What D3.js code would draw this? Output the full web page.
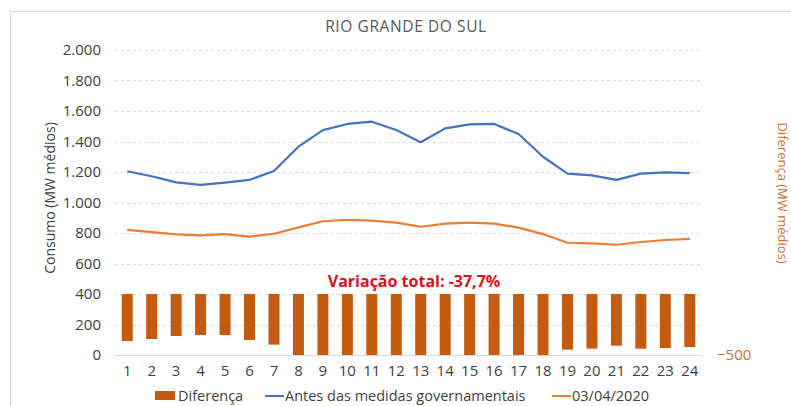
<!DOCTYPE html>
<html>
<head>
<meta charset="utf-8">
<script src="https://cdn.jsdelivr.net/npm/d3@7"></script>
<style>
    body { margin: 0; background: #fff; }
    text { font-family: "Open Sans", Lato, sans-serif; }
</style>
</head>
<body>
<svg id="chart" width="791" height="406"></svg>
<script>
// hours of the day
var hours = d3.range(1, 25);
// consumption before the government measures (MW médios)
var antes = [1205, 1172, 1132, 1115, 1130, 1148, 1207, 1366, 1475, 1515, 1530, 1475,
             1395, 1486, 1512, 1515, 1449, 1300, 1189, 1178, 1148, 1189, 1198, 1193];
// consumption on 03/04/2020
var dia = [820, 806, 791, 785, 793, 776, 795, 837, 877, 887, 881, 868,
           841, 861, 868, 861, 835, 793, 736, 732, 723, 741, 754, 761];
// difference (right axis)
var diferenca = [-385, -369, -344, -336, -336, -377, -415, -529, -598, -628, -649, -607,
                 -554, -625, -644, -654, -614, -507, -456, -448, -424, -448, -443, -435];
var leftTicks = [0, 200, 400, 600, 800, 1000, 1200, 1400, 1600, 1800, 2000];
var rightTicks = [-500];

var fmt = function(v) { return d3.format(",")(v).replace(/,/g, "."); };

var svg = d3.select("#chart");
var margin = {top: 50, left: 115, right: 89, bottom: 51};
var width = 791 - margin.left - margin.right,
    height = 406 - margin.top - margin.bottom;

// chart frame
svg.append("rect")
    .attr("x", 10.5).attr("y", 11.5)
    .attr("width", 800).attr("height", 420)
    .attr("fill", "none").attr("stroke", "#d9d9d9");

var g = svg.append("g").attr("transform", "translate(" + margin.left + "," + margin.top + ")");

var x = d3.scaleBand().domain(hours).range([0, width]);
var y = d3.scaleLinear().domain([0, 2000]).range([height, 0]);
var y2 = d3.scaleLinear().domain([-500, 2000]).range([height, 0]).clamp(true);

// gridlines
g.append("g")
    .selectAll("line")
    .data(leftTicks)
    .enter().append("line")
    .attr("x1", 0).attr("x2", width)
    .attr("y1", function(d) { return Math.round(y(d)) + 0.5; })
    .attr("y2", function(d) { return Math.round(y(d)) + 0.5; })
    .attr("stroke", "#d9d9d9")
    .attr("stroke-dasharray", function(d) { return d === 0 ? null : "3,3"; });

// left axis
var yAxis = g.append("g").call(d3.axisLeft(y).tickValues(leftTicks).tickFormat(fmt).tickSize(0).tickPadding(14));
yAxis.select(".domain").remove();
yAxis.selectAll("text").attr("font-size", "15px").attr("fill", "#404040")
    .attr("font-family", "'Open Sans', sans-serif");

// right axis (only -500 shown)
var yAxis2 = g.append("g").attr("transform", "translate(" + width + ",0)")
    .call(d3.axisRight(y2).tickValues(rightTicks).tickSize(0).tickPadding(15));
yAxis2.select(".domain").remove();
yAxis2.selectAll("text").attr("font-size", "15px").attr("fill", "#c8712e")
    .attr("font-family", "'Open Sans', sans-serif");

// x axis
var xAxis = g.append("g").attr("transform", "translate(0," + height + ")")
    .call(d3.axisBottom(x).tickSize(0).tickPadding(10));
xAxis.select(".domain").remove();
xAxis.selectAll("text").attr("font-size", "15px").attr("fill", "#404040")
    .attr("font-family", "'Open Sans', sans-serif");

// bars of the difference, hanging from zero on the right axis
g.selectAll(".bar")
    .data(diferenca)
    .enter().append("rect")
    .attr("class", "bar")
    .attr("x", function(d, i) { return x(hours[i]) + x.bandwidth() / 2 - 5.5; })
    .attr("y", y2(0))
    .attr("width", 11)
    .attr("height", function(d) { return y2(d) - y2(0); })
    .attr("fill", "#c55a11");

// lines
var line = d3.line()
    .x(function(d, i) { return x(hours[i]) + x.bandwidth() / 2; })
    .y(function(d) { return y(d); });

g.append("path").datum(antes)
    .attr("d", line).attr("fill", "none")
    .attr("stroke", "#4472c4").attr("stroke-width", 2.2).attr("stroke-linejoin", "round");

g.append("path").datum(dia)
    .attr("d", line).attr("fill", "none")
    .attr("stroke", "#ed7d31").attr("stroke-width", 2.2).attr("stroke-linejoin", "round");

// title
svg.append("text")
    .attr("x", 406).attr("y", 32)
    .attr("text-anchor", "middle")
    .attr("font-size", "15.5px").attr("fill", "#595959")
    .attr("letter-spacing", "0.6px")
    .text("RIO GRANDE DO SUL");

// annotation
svg.append("text")
    .attr("x", 414).attr("y", 287)
    .attr("text-anchor", "middle")
    .attr("font-size", "16px").attr("font-weight", "bold").attr("fill", "#e0101a")
    .text("Variação total: -37,7%");

// axis titles
svg.append("text")
    .attr("transform", "translate(55,198) rotate(-90)")
    .attr("text-anchor", "middle")
    .attr("font-size", "14px").attr("fill", "#404040")
    .text("Consumo (MW médios)");

svg.append("text")
    .attr("transform", "translate(778,193) rotate(90)")
    .attr("text-anchor", "middle")
    .attr("font-size", "13px").attr("fill", "#c8712e")
    .text("Diferença (MW médios)");

// legend
var legend = svg.append("g").attr("font-size", "14.5px").attr("fill", "#404040");
legend.append("rect").attr("x", 155).attr("y", 391).attr("width", 20).attr("height", 9).attr("fill", "#c55a11");
legend.append("text").attr("x", 178).attr("y", 401).text("Diferença");
legend.append("line").attr("x1", 265).attr("x2", 284).attr("y1", 396).attr("y2", 396)
    .attr("stroke", "#4472c4").attr("stroke-width", 2);
legend.append("text").attr("x", 285).attr("y", 401).text("Antes das medidas governamentais");
legend.append("line").attr("x1", 552).attr("x2", 571).attr("y1", 396).attr("y2", 396)
    .attr("stroke", "#ed7d31").attr("stroke-width", 2);
legend.append("text").attr("x", 572).attr("y", 401).text("03/04/2020");
</script>
</body>
</html>
